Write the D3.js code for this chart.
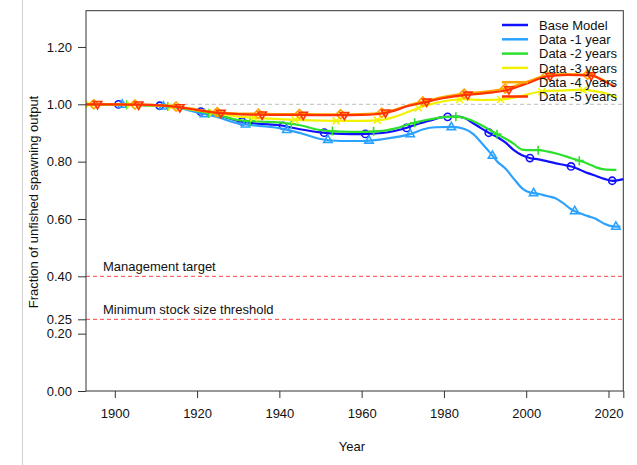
<!DOCTYPE html>
<html><head><meta charset="utf-8">
<script src="https://cdn.jsdelivr.net/npm/d3@7"></script>
<style>
html,body{margin:0;padding:0;background:#fff;}
text{font-family:"Liberation Sans",Arial,Helvetica,sans-serif;}
</style></head>
<body>
<svg id="c" width="637" height="465"></svg>
<script>
// ---- data ----
const seriesNames = ["Base Model","Data -1 year","Data -2 years","Data -3 years","Data -4 years","Data -5 years"];
const seriesColors = ["#1010FF","#2BA2FF","#2EE02E","#F2F200","#FFA500","#FF3200"];
const seriesShapes = ["circle","triUp","plus","cross","diamond","triDown"];
const markerStart = [1900.9,1901.8,1902.9,1893.8,1894.9,1895.8];

const baseYears  = [1893,1900,1905,1910,1915,1920,1925,1930,1935,1940,1945,1950,1955,1960,1965,1968,1971,1974,1977,1980,1983,1985,1987,1989,1991,1993,1995,1997,1999,2001,2003,2005,2007,2009,2011,2013,2015,2017,2019,2021,2023.6];
const baseValues = [1.000,1.000,0.998,0.996,0.990,0.977,0.962,0.942,0.932,0.927,0.913,0.902,0.897,0.896,0.900,0.907,0.918,0.933,0.945,0.956,0.957,0.952,0.935,0.917,0.900,0.885,0.866,0.840,0.822,0.812,0.808,0.802,0.795,0.789,0.783,0.772,0.760,0.750,0.740,0.733,0.739];

const lag1Years  = [1893,1900,1905,1910,1915,1920,1925,1930,1935,1940,1945,1950,1955,1960,1965,1969,1972,1975,1978,1982,1985,1987,1989,1991,1993,1995,1997,1999,2001,2003,2005,2007,2009,2011,2013,2015,2017,2019,2021,2022.9];
const lag1Values = [1.000,1.000,0.998,0.995,0.989,0.972,0.955,0.933,0.925,0.917,0.900,0.879,0.872,0.872,0.878,0.887,0.897,0.913,0.920,0.921,0.914,0.898,0.868,0.835,0.800,0.775,0.740,0.707,0.692,0.688,0.680,0.673,0.655,0.633,0.620,0.610,0.600,0.583,0.574,0.573];

const lag2Years  = [1893,1900,1905,1910,1915,1920,1925,1930,1935,1940,1945,1950,1955,1960,1965,1968,1972,1976,1980,1983,1986,1989,1991,1993,1995,1997,1999,2001,2003,2005,2008,2011,2013,2015,2017,2019,2021.9];
const lag2Values = [1.000,1.000,0.998,0.996,0.990,0.977,0.963,0.945,0.940,0.937,0.927,0.910,0.905,0.904,0.907,0.915,0.933,0.946,0.955,0.957,0.948,0.928,0.912,0.895,0.880,0.862,0.842,0.840,0.840,0.836,0.826,0.812,0.803,0.793,0.780,0.773,0.771];

const lag3Years  = [1893,1900,1905,1910,1915,1920,1925,1930,1935,1940,1945,1950,1955,1960,1965,1968,1971,1974,1978,1982,1985,1989,1994,1999,2003,2008,2013,2017,2020,2022];
const lag3Values = [1.000,1.000,0.998,0.996,0.990,0.979,0.969,0.957,0.952,0.948,0.945,0.943,0.942,0.942,0.946,0.956,0.972,0.988,1.005,1.015,1.018,1.015,1.017,1.030,1.043,1.048,1.050,1.045,1.035,1.024];

const lag4Years  = [1893,1900,1905,1910,1915,1920,1925,1930,1935,1940,1945,1950,1955,1960,1965,1968,1971,1975,1980,1985,1990,1995,2000,2005,2010,2015,2018,2020];
const lag4Values = [1.000,1.000,0.999,0.997,0.992,0.982,0.972,0.968,0.967,0.966,0.966,0.965,0.965,0.966,0.971,0.981,0.995,1.010,1.026,1.037,1.044,1.055,1.078,1.100,1.105,1.103,1.090,1.075];

const lag5Years  = [1893,1900,1905,1910,1915,1920,1925,1930,1935,1940,1945,1950,1955,1960,1965,1968,1971,1975,1980,1985,1990,1995,2000,2005,2010,2016,2019,2021.5];
const lag5Values = [1.000,1.000,0.999,0.997,0.991,0.980,0.970,0.966,0.964,0.963,0.963,0.962,0.962,0.963,0.968,0.978,0.993,1.006,1.022,1.032,1.039,1.048,1.072,1.097,1.103,1.100,1.080,1.062];

const xTicks = [1900,1920,1940,1960,1980,2000,2020];
const yTicks = [0,0.2,0.25,0.4,0.6,0.8,1.0,1.2];
const refLines = [{v:0.40,label:"Management target"},{v:0.25,label:"Minimum stock size threshold"}];

const allYears = [baseYears,lag1Years,lag2Years,lag3Years,lag4Years,lag5Years];
const allValues = [baseValues,lag1Values,lag2Values,lag3Values,lag4Values,lag5Values];

// ---- layout ----
const L=86, R=623.3, T=10.7, B=391;
const svg = d3.select("#c");
const x = d3.scaleLinear().domain([1893,2023.6]).range([L,R]);
const y = d3.scaleLinear().domain([0,1.3265]).range([B,T]);

// page border line
svg.append("line").attr("x1",22.5).attr("x2",22.5).attr("y1",0).attr("y2",465)
  .attr("stroke","#d0d0d0").attr("stroke-width",1);

// unfished reference line
svg.append("line").attr("x1",L).attr("x2",R).attr("y1",y(1)).attr("y2",y(1))
  .attr("stroke","#bdbdbd").attr("stroke-width",1).attr("stroke-dasharray","4,3");

// management lines
refLines.forEach(r=>{
  svg.append("line").attr("x1",L).attr("x2",R).attr("y1",y(r.v)).attr("y2",y(r.v))
    .attr("stroke","#FF4040").attr("stroke-width",1).attr("stroke-dasharray","4,3");
  svg.append("text").attr("x",103).attr("y",y(r.v)-5.5).attr("font-size",13).attr("fill","#111").text(r.label);
});

// lines
const line = d3.line().x(d=>x(d[0])).y(d=>y(d[1])).curve(d3.curveMonotoneX);
function interp(yrs, vals, t){
  const i = d3.bisectRight(yrs,t);
  if(i<=0) return vals[0];
  if(i>=yrs.length) return vals[vals.length-1];
  const f=(t-yrs[i-1])/(yrs[i]-yrs[i-1]);
  return vals[i-1]+f*(vals[i]-vals[i-1]);
}
function shapePath(s){
  switch(s){
    case "triUp": return "M0,-4.6L4.2,2.7L-4.2,2.7Z";
    case "triDown": return "M0,4.6L4.2,-2.7L-4.2,-2.7Z";
    case "diamond": return "M0,-4.6L4.6,0L0,4.6L-4.6,0Z";
    case "plus": return "M-4.5,0L4.5,0M0,-4.5L0,4.5";
    case "cross": return "M-3.5,-3.5L3.5,3.5M-3.5,3.5L3.5,-3.5";
  }
  return null;
}
allYears.forEach((yrs,k)=>{
  const pts = yrs.map((t,i)=>[t,allValues[k][i]]);
  const col = seriesColors[k];
  svg.append("path").datum(pts).attr("d",line).attr("fill","none")
    .attr("stroke",col).attr("stroke-width",2.2).attr("stroke-linejoin","round");
  const mYears = d3.range(markerStart[k], yrs[yrs.length-1]+0.01, 10);
  const g = svg.append("g");
  mYears.forEach(t=>{
    const cx=x(t), cy=y(interp(yrs,allValues[k],t));
    if(seriesShapes[k]==="circle"){
      g.append("circle").attr("cx",cx).attr("cy",cy).attr("r",3.6)
        .attr("fill","none").attr("stroke",col).attr("stroke-width",1.6);
    } else {
      g.append("path").attr("d",shapePath(seriesShapes[k])).attr("transform",`translate(${cx},${cy})`)
        .attr("fill","none").attr("stroke",col).attr("stroke-width",1.6);
    }
  });
});

// box
svg.append("rect").attr("x",L).attr("y",T).attr("width",R-L).attr("height",B-T)
  .attr("fill","none").attr("stroke","#333").attr("stroke-width",1);

// axes
const yAxis = d3.axisLeft(y).tickValues(yTicks).tickFormat(d3.format(".2f")).tickSize(8).tickPadding(6);
const gy = svg.append("g").attr("transform",`translate(${L},0)`).call(yAxis);
gy.select(".domain").remove();
gy.selectAll(".tick line").attr("stroke","#333");
gy.selectAll("text").attr("font-size",13).attr("fill","#111").attr("font-family","Liberation Sans, Arial, sans-serif");

const xAxis = d3.axisBottom(x).tickValues(xTicks.concat([2023.6])).tickFormat(d=>d>2021?"":d3.format("d")(d)).tickSize(7).tickPadding(11);
const gx = svg.append("g").attr("transform",`translate(0,${B})`).call(xAxis);
gx.select(".domain").remove();
gx.selectAll(".tick line").attr("stroke","#333");
gx.selectAll("text").attr("font-size",13).attr("fill","#111").attr("font-family","Liberation Sans, Arial, sans-serif");

// axis titles
svg.append("text").attr("x",352).attr("y",451).attr("text-anchor","middle").attr("font-size",13).attr("fill","#111").text("Year");
svg.append("text").attr("transform","translate(38,202) rotate(-90)").attr("text-anchor","middle")
  .attr("font-size",13).attr("fill","#111").text("Fraction of unfished spawning output");

// legend
const lg = svg.append("g");
seriesNames.forEach((n,i)=>{
  const ly = 25 + i*14.3;
  lg.append("line").attr("x1",502).attr("x2",528).attr("y1",ly).attr("y2",ly)
    .attr("stroke",seriesColors[i]).attr("stroke-width",2.5);
  lg.append("text").attr("x",539).attr("y",ly+4.6).attr("font-size",13).attr("fill","#111").text(n);
});
</script>
</body></html>
